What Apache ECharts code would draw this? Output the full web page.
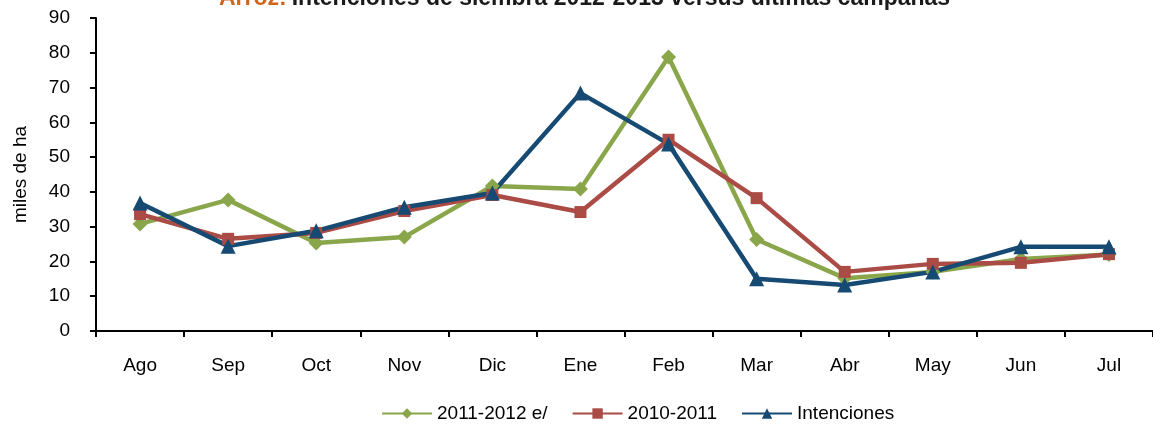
<!DOCTYPE html>
<html><head><meta charset="utf-8">
<script src="https://cdn.jsdelivr.net/npm/echarts@6/dist/echarts.min.js"></script>
<style>html,body{margin:0;padding:0;background:#fff}#c{width:1153px;height:425px}</style>
</head><body><div id="c"></div>
<script>
const categories = ['Ago','Sep','Oct','Nov','Dic','Ene','Feb','Mar','Abr','May','Jun','Jul'];
const s2011_2012 = [30.8,37.7,25.3,27.0,41.7,40.8,78.8,26.3,15.2,17.0,20.7,22.0];
const s2010_2011 = [33.6,26.5,28.2,34.5,39.1,34.2,55.0,38.2,17.0,19.3,19.6,22.1];
const intenciones = [36.8,24.4,28.8,35.6,39.7,68.4,53.8,15.0,13.2,17.0,24.2,24.2];
const seriesNames = ['2011-2012 e/','2010-2011','Intenciones'];
const yTicks = [0,10,20,30,40,50,60,70,80,90];

const font = 'Arial, "Liberation Sans", sans-serif';
const chart = echarts.init(document.getElementById('c'), null, {renderer:'canvas'});
const mk = (name, data, color, symbol, size) => ({
  name, type:'line', data, symbol, symbolSize:size, showSymbol:true,
  lineStyle:{color, width:4.5}, itemStyle:{color}, animation:false, z: 2
});
chart.setOption({
  animation:false,
  title:{
    text:'{a|Arroz:} {b|Intenciones de siembra 2012-2013 versus últimas campañas}',
    left:214, top:-18,
    textStyle:{rich:{
      a:{fontFamily:font, fontWeight:'bold', fontSize:23, color:'#d0651e'},
      b:{fontFamily:font, fontWeight:'bold', fontSize:23, color:'#1a1a1a'}
    }}
  },
  grid:{left:96, right:-4, top:18, bottom:94},
  legend:{
    bottom:-3, left:376, itemWidth:50, itemHeight:13, itemGap:24,
    textStyle:{fontFamily:font, fontSize:19, color:'#000'},
    data:seriesNames
  },
  xAxis:{
    type:'category', data:categories, boundaryGap:true,
    axisLine:{lineStyle:{color:'#000', width:2}},
    axisTick:{show:true, length:6, lineStyle:{color:'#000', width:2}, alignWithLabel:false},
    axisLabel:{fontFamily:font, fontSize:19, color:'#000', margin:25}
  },
  yAxis:{
    type:'value', min:yTicks[0], max:yTicks[yTicks.length-1], interval:10,
    name:'miles de ha', nameLocation:'middle', nameGap:66, nameRotate:90,
    nameTextStyle:{fontFamily:font, fontSize:19, color:'#000'},
    axisLine:{show:true, lineStyle:{color:'#000', width:2}},
    axisTick:{show:true, length:6, lineStyle:{color:'#000', width:2}},
    splitLine:{show:false},
    axisLabel:{fontFamily:font, fontSize:19, color:'#000', margin:26, align:'right'}
  },
  series:[
    mk(seriesNames[0], s2011_2012, '#8aa64b', 'diamond', 15),
    mk(seriesNames[1], s2010_2011, '#aa4b45', 'rect', 12),
    mk(seriesNames[2], intenciones, '#164a72', 'triangle', 15)
  ]
});
</script></body></html>
